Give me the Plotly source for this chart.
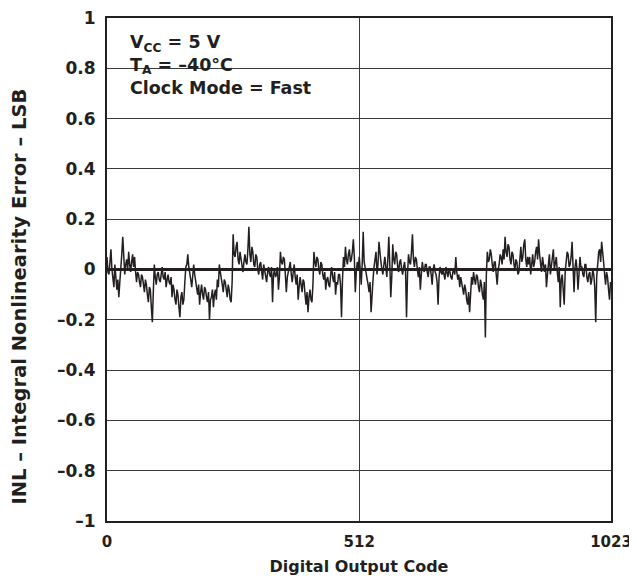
import plotly.graph_objects as go

# INL, one value every 2 codes (LSB)
CODES = list(range(0, 1024, 2))
INL = [
    # codes 0 - 170
    0.05, -0.01, -0.02, 0.03, 0.08, 0.00, -0.04, -0.07, 0.02, -0.03,
    -0.08, -0.04, -0.11, -0.05, 0.03, 0.06, 0.13, 0.01, -0.02, 0.02,
    0.04, 0.00, 0.07, 0.02, -0.01, 0.03, 0.06, 0.01, 0.05, -0.01,
    -0.05, -0.01, -0.02, -0.05, -0.07, -0.02, -0.03, -0.06, -0.09, -0.04,
    -0.06, -0.10, -0.13, -0.07, -0.08, -0.15, -0.21, -0.09, 0.02, -0.03,
    -0.06, -0.02, -0.01, -0.04, -0.05, -0.02, 0.01, -0.03, -0.04, -0.01,
    -0.07, -0.04, -0.02, -0.05, -0.06, -0.03, -0.11, -0.06, -0.08, -0.12,
    -0.14, -0.08, -0.10, -0.15, -0.19, -0.11, -0.09, -0.14, -0.12, -0.05,
    0.01, 0.02, 0.06, 0.01, -0.01, -0.04,
    # codes 172 - 342
    -0.07, -0.03, 0.02, -0.02, -0.05, -0.08, -0.10, -0.06, -0.14, -0.09,
    -0.06, -0.10, -0.12, -0.07, -0.08, -0.11, -0.13, -0.09, -0.20, -0.12,
    -0.11, -0.08, -0.15, -0.10, -0.08, -0.12, -0.04, -0.07, 0.02, -0.01,
    -0.03, -0.06, -0.09, -0.04, -0.05, -0.08, -0.11, -0.06, -0.08, -0.12,
    -0.13, -0.05, 0.14, 0.06, 0.05, 0.09, 0.11, 0.04, 0.02, 0.07,
    0.04, 0.00, -0.01, 0.03, 0.06, 0.03, 0.02, 0.08, 0.17, 0.06,
    0.03, 0.09, 0.07, 0.02, 0.01, 0.06, 0.05, 0.00, -0.02, 0.02,
    0.03, -0.01, -0.04, 0.02, 0.00, -0.03, -0.05, -0.01, 0.01, -0.02,
    -0.03, 0.01, -0.13, -0.02, 0.00, -0.03,
    # codes 344 - 510
    -0.02, 0.01, -0.08, -0.03, 0.07, 0.03, 0.02, 0.05, 0.04, -0.02,
    -0.09, -0.03, -0.01, 0.02, 0.03, -0.02, -0.05, -0.01, 0.02, -0.03,
    -0.06, -0.02, -0.12, -0.07, -0.03, -0.06, -0.09, -0.04, -0.05, -0.10,
    -0.14, -0.09, -0.17, -0.11, -0.08, -0.12, -0.13, -0.06, 0.07, 0.03,
    0.01, 0.05, 0.04, 0.00, -0.02, 0.03, 0.02, -0.02, -0.04, -0.01,
    -0.08, -0.04, -0.03, -0.06, -0.07, -0.02, 0.01, -0.03, -0.05, -0.01,
    -0.10, -0.05, -0.06, -0.02, -0.02, -0.06, -0.19, -0.04, 0.05, 0.01,
    0.09, 0.04, 0.02, 0.06, 0.08, 0.03, 0.04, 0.07, 0.12, 0.05,
    -0.09, -0.01, 0.03, 0.00,
    # codes 512 - 682
    0.05, 0.00, -0.06, 0.02, 0.15, 0.03, 0.01, -0.02, -0.03, -0.06,
    -0.09, -0.05, -0.17, -0.08, -0.04, 0.01, 0.04, 0.07, -0.02, 0.02,
    0.11, 0.06, 0.03, 0.00, -0.02, 0.02, 0.05, 0.01, -0.03, 0.04,
    0.13, 0.02, -0.11, -0.03, 0.10, 0.04, 0.02, 0.07, 0.06, 0.01,
    -0.01, 0.03, 0.04, 0.00, -0.02, 0.01, 0.03, -0.01, -0.19, -0.02,
    0.06, 0.03, 0.02, 0.07, 0.14, 0.04, 0.01, 0.05, 0.04, 0.00,
    -0.03, 0.01, -0.08, -0.02, 0.03, 0.00, -0.01, 0.02, 0.02, -0.01,
    -0.03, 0.01, 0.01, -0.02, -0.06, 0.00, 0.02, -0.01, -0.02, -0.05,
    -0.14, -0.03, 0.01, -0.01, -0.02, 0.00,
    # codes 684 - 854
    -0.02, -0.04, 0.01, -0.02, -0.03, 0.00, -0.01, -0.03, -0.04, -0.01,
    0.00, -0.02, 0.05, -0.01, -0.04, -0.02, -0.07, -0.03, -0.05, -0.08,
    -0.10, -0.06, -0.08, -0.12, -0.14, -0.09, -0.17, -0.10, -0.03, -0.06,
    -0.01, -0.04, -0.06, -0.02, -0.03, -0.07, -0.09, -0.04, -0.06, -0.10,
    -0.12, -0.05, -0.27, -0.02, 0.07, 0.03, 0.04, 0.08, 0.06, 0.02,
    -0.01, 0.03, 0.03, -0.02, -0.06, 0.00, 0.02, 0.06, 0.05, 0.02,
    0.08, 0.04, 0.13, 0.07, 0.05, 0.10, 0.09, 0.04, 0.02, 0.07,
    0.06, 0.02, 0.00, 0.04, 0.03, -0.02, -0.01, 0.04, 0.09, 0.03,
    0.05, 0.10, 0.12, 0.04, 0.01, 0.05,
    # codes 856 - 1022
    0.02, 0.05, -0.02, 0.02, 0.06, 0.01, 0.03, 0.07, 0.09, 0.04,
    0.12, 0.06, 0.02, -0.01, 0.05, 0.01, -0.01, 0.02, -0.07, -0.02,
    0.03, 0.06, -0.02, 0.01, 0.04, 0.08, 0.00, 0.03, 0.05, -0.01,
    -0.05, 0.01, -0.15, -0.04, -0.02, -0.08, -0.14, -0.01, 0.03, 0.07,
    0.06, 0.01, 0.02, 0.05, 0.11, 0.03, -0.09, 0.01, 0.04, 0.00,
    -0.08, -0.02, 0.05, 0.01, 0.01, -0.02, -0.03, 0.02, 0.02, -0.03,
    -0.05, -0.02, -0.01, -0.06, -0.04, 0.00, -0.02, -0.07, -0.21, -0.03,
    0.04, 0.07, 0.08, 0.03, 0.11, 0.05, 0.03, -0.02, -0.06, -0.01,
    -0.03, -0.08, -0.12, -0.05,
]

Y_TICKS = [1, 0.8, 0.6, 0.4, 0.2, 0, -0.2, -0.4, -0.6, -0.8, -1]
Y_LABELS = ["1", "0.8", "0.6", "0.4", "0.2", "0", "–0.2", "–0.4", "–0.6", "–0.8", "–1"]
X_TICKS = [0, 512, 1023]
X_LABELS = ["0", "512", "1023"]

_FONT = "DejaVu Sans"
_INK = "#231f20"
_GRID = "#3a3a3a"

fig = go.Figure()
fig.add_trace(go.Scatter(
    x=CODES,
    y=INL,
    mode="lines",
    line=dict(color=_INK, width=1.5),
    showlegend=False,
))

# page body keeps an 8px margin on the left/top, so everything is shifted by it
fig.update_layout(
    width=629,
    height=568,
    paper_bgcolor="white",
    plot_bgcolor="white",
    font=dict(family=_FONT, size=16, color=_INK, weight="bold"),
    margin=dict(l=99, r=26, t=10, b=55, autoexpand=False),
    xaxis=dict(
        range=[0, 1023],
        tickvals=X_TICKS,
        ticktext=X_LABELS,
        ticks="outside",
        ticklen=6,
        tickcolor="rgba(0,0,0,0)",
        ticklabeloverflow="allow",
        automargin=False,
        showgrid=True,
        gridcolor=_GRID,
        gridwidth=1,
        zeroline=False,
        showline=True,
        linecolor=_INK,
        linewidth=2,
        mirror=True,
        tickfont=dict(size=15, weight="bold"),
        title=dict(text="Digital Output Code", font=dict(size=16, weight="bold"), standoff=15),
    ),
    yaxis=dict(
        range=[-1, 1],
        tickvals=Y_TICKS,
        ticktext=Y_LABELS,
        ticks="outside",
        ticklen=6,
        tickcolor="rgba(0,0,0,0)",
        ticklabeloverflow="allow",
        automargin=False,
        showgrid=True,
        gridcolor=_GRID,
        gridwidth=1,
        zeroline=True,
        zerolinecolor=_INK,
        zerolinewidth=3,
        showline=True,
        linecolor=_INK,
        linewidth=2,
        mirror=True,
        tickfont=dict(size=17, weight="bold"),
    ),
)

# y title sits a little below the plot centre in the reference
fig.add_annotation(
    xref="paper", yref="paper", x=-0.174, y=0.447,
    xanchor="center", yanchor="middle", textangle=-90, showarrow=False,
    text="INL – Integral Nonlinearity Error – LSB",
    font=dict(size=19.5, weight="bold", color=_INK),
)

# white patch behind the conditions text, hiding the 0.8 grid line there
fig.add_shape(
    type="rect", xref="paper", yref="paper",
    x0=0.01, x1=0.462, y0=0.815, y1=0.98,
    fillcolor="white", line=dict(width=0), layer="between",
)
fig.add_annotation(
    xref="paper", yref="paper", x=0.042, y=0.976,
    xanchor="left", yanchor="top", align="left", showarrow=False,
    text="V<sub>CC</sub> = 5 V<br>T<sub>A</sub> = –40°C<br>Clock Mode = Fast",
    font=dict(size=17.5, weight="bold", color=_INK),
)

fig.write_html("out.html")
